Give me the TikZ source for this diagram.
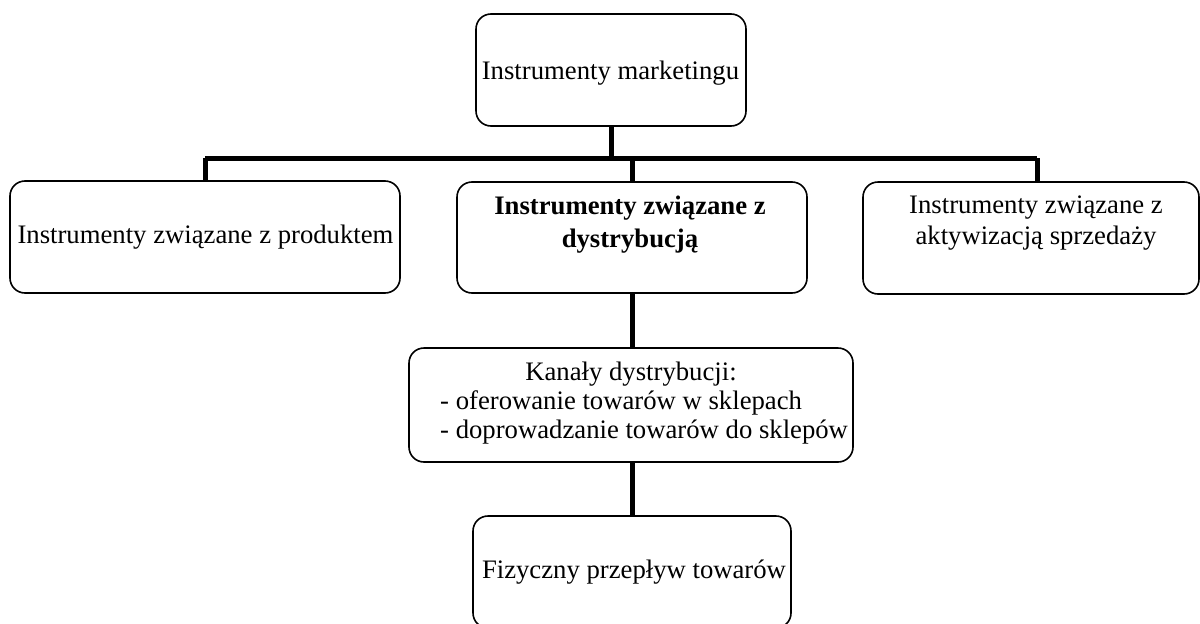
\documentclass[tikz,border=0pt]{standalone}
\usepackage{fontspec}
\setmainfont{Liberation Serif}
\begin{document}
\begin{tikzpicture}[x=1pt,y=-1pt,
  box/.style={draw, line width=1.6pt, rounded corners=15pt, inner sep=0pt},
  conn/.style={line width=5pt},
  txt/.style={inner sep=0pt, anchor=base, font=\fontsize{26.7}{32}\selectfont},
  txtl/.style={txt, anchor=base west}]
\useasboundingbox (0,0) rectangle (1200,624);
% boxes
\node[box, minimum width=270pt, minimum height=112pt] (top) at (611,70) {};
\node[box, minimum width=390pt, minimum height=112pt] (left) at (205,237) {};
\node[box, minimum width=350pt, minimum height=111pt] (mid) at (632,237.5) {};
\node[box, minimum width=336pt, minimum height=112pt] (right) at (1031,238) {};
\node[box, minimum width=444pt, minimum height=114pt] (kan) at (631,405) {};
\node[box, minimum width=318pt, minimum height=112pt] (fiz) at (632,572) {};
% texts
\node[txt] (ttop) at (610.5,79) {Instrumenty marketingu};
\node[txt] (tleft) at (205.5,243) {Instrumenty związane z produktem};
\node[txt, font=\fontsize{26.7}{32}\selectfont\bfseries] (tmid1) at (630,214) {Instrumenty związane z};
\node[txt, font=\fontsize{26.7}{32}\selectfont\bfseries] (tmid2) at (630,247) {dystrybucją};
\node[txt] (tright1) at (1036,213) {Instrumenty związane z};
\node[txt] (tright2) at (1036,244) {aktywizacją sprzedaży};
\node[txt] (tkan1) at (631,380) {Kanały dystrybucji:};
\node[txtl] (tkan2) at (440,409) {- oferowanie towarów w sklepach};
\node[txtl] (tkan3) at (440,438) {- doprowadzanie towarów do sklepów};
\node[txt] (tfiz) at (634,578) {Fizyczny przepływ towarów};
% connectors
\coordinate (hL) at (205,158);
\coordinate (hR) at (1037,158);
\draw[conn] (hL) -- (hR);
\draw[conn] (top.south) -- (top.south |- hL);
\draw[conn] (hL) -- (left.north);
\draw[conn] (mid.north |- hL) -- (mid.north);
\draw[conn] (hR) -- (hR |- right.north);
\draw[conn] (mid.south) -- (mid.south |- kan.north);
\draw[conn] (mid.south |- kan.south) -- (fiz.north);
\end{tikzpicture}
\end{document}
